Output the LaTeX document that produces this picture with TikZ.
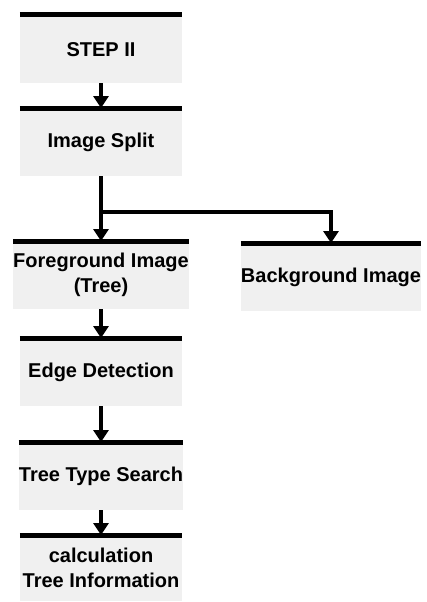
\documentclass[tikz,border=0pt]{standalone}
\usepackage{fontspec}
\setmainfont{Liberation Sans}
\usetikzlibrary{arrows.meta}

\tikzset{
  stage/.style={anchor=north, minimum width=162pt, minimum height=68pt, inner sep=0pt,
    fill=black!6, align=center, font=\bfseries\fontsize{20}{25}\selectfont},
  bar/.style={line width=5pt},
  flow/.style={line width=4.5pt, -{Triangle[width=15pt,length=12pt]}},
}

\begin{document}
\begin{tikzpicture}[x=1pt,y=-1pt]
    \useasboundingbox (0,0) rectangle (427,602);

    \node[stage] (step) at (101,15) {STEP II};
    \node[stage] (split) at (101,108) {Image Split};
    \node[stage] (fore) at (101,241) {Foreground Image\\(Tree)};
    \node[stage] (back) at (331,243) {Background Image};
    \node[stage] (edge) at (101,338) {Edge Detection};
    \node[stage] (search) at (101,442) {Tree Type Search};
    \node[stage, minimum height=66pt] (calc) at (101,535) {calculation\\Tree Information};

    \coordinate (fork) at (101,212);

    \draw[flow] (step) -- (split.north);
    \draw[flow] (split) -- (fore.north);
    \draw[flow] (fork) -| (back.north);
    \draw[flow] (fore) -- (edge.north);
    \draw[flow] (edge) -- (search.north);
    \draw[flow] (search) -- (calc.north);

    \foreach \n in {step,split,fore,back,edge,search,calc}
        \draw[bar] (\n.north west) -- (\n.north east);
\end{tikzpicture}
\end{document}
